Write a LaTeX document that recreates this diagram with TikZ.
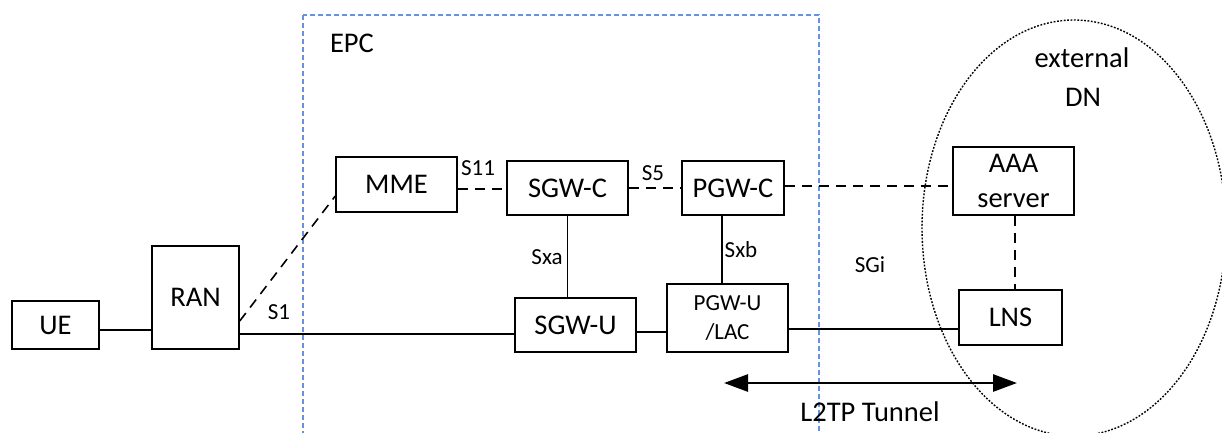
\documentclass[tikz,border=0pt]{standalone}
\usepackage{fontspec}
\setmainfont{Carlito}
\usetikzlibrary{arrows.meta}
\definecolor{epcblue}{RGB}{105,145,225}
\begin{document}
\begin{tikzpicture}[x=1pt,y=-1pt,
  box/.style={draw, line width=1.5pt, inner sep=0pt, align=center, font=\fontsize{28.5}{35}\selectfont},
  smallbox/.style={box, font=\fontsize{23}{29}\selectfont},
  lbl/.style={font=\fontsize{23}{26}\selectfont, inner sep=0pt},
  big/.style={font=\fontsize{28.5}{38}\selectfont, inner sep=0pt, align=center},
  link/.style={line width=1.6pt},
  dlink/.style={line width=1.6pt, dash pattern=on 10pt off 7pt}]
\useasboundingbox (0,0) rectangle (1222,432);
% EPC region
\draw[epcblue, line width=1.15pt, dash pattern=on 5pt off 3pt] (303,15) rectangle (819,445);
\node[big] (epc) at (352,43) {EPC};
% external DN
\draw[line width=1.4pt, dash pattern=on 1.8pt off 1.6pt] (1074,228) ellipse [x radius=152, y radius=208];
\node[big] (ext) at (1082,58) {external};
\node[big] (dn) at (1083,97) {DN};
% boxes
\node[box, minimum width=87pt, minimum height=48pt] (UE) at (55.5,325) {UE};
\node[box, minimum width=87pt, minimum height=103pt] (RAN) at (195.5,297.5) {RAN};
\node[box, minimum width=121pt, minimum height=55pt] (MME) at (396.5,184.5) {MME};
\node[box, minimum width=121pt, minimum height=54pt] (SGWC) at (567.5,188) {SGW-C};
\node[box, minimum width=102pt, minimum height=54pt] (PGWC) at (733,188) {PGW-C};
\node[box, minimum width=121pt, minimum height=68pt] (AAA) at (1013.5,181) {AAA\\server};
\node[box, minimum width=121pt, minimum height=54pt] (SGWU) at (575.5,325) {SGW-U};
\node[smallbox, minimum width=121pt, minimum height=68pt] (PGWU) at (727.5,318) {PGW-U\\/LAC};
\node[box, minimum width=103pt, minimum height=55pt] (LNS) at (1010.5,317.5) {LNS};
% user plane links
\draw[link] (UE.east |- 0,330) -- (RAN.west |- 0,330);
\draw[link] (RAN.east |- 0,334) -- (SGWU.west |- 0,334);
\draw[link] (SGWU.east |- 0,332) -- (PGWU.west |- 0,332);
\draw[link] (PGWU.east |- 0,329) -- (LNS.west |- 0,329);
% control plane links
\draw[dlink] ([yshift=-23.5pt]RAN.east) -- ([yshift=-11.5pt]MME.west);
\draw[dlink] (MME.east |- 0,189) -- (SGWC.west |- 0,189);
\draw[dlink] (SGWC.east |- 0,188) -- (PGWC.west |- 0,188);
\draw[dlink] (PGWC.east |- 0,186) -- (AAA.west |- 0,186);
\draw[dlink] (AAA.south -| 1015,0) -- (LNS.north -| 1015,0);
% Sx links
\draw[link] (SGWC.south) -- (SGWC.south |- SGWU.north);
\coordinate (sxbtop) at (722,215);
\draw[link] (sxbtop) -- (sxbtop |- PGWU.north);
% labels
\node[lbl] (s1) at (279,312) {S1};
\node[lbl] (s11) at (478,168) {S11};
\node[lbl] (s5) at (653,173) {S5};
\node[lbl] (sxa) at (547,257) {Sxa};
\node[lbl] (sxb) at (741,250) {Sxb};
\node[lbl] (sgi) at (870,265) {SGi};
% L2TP tunnel
\coordinate (tl) at (724,383);
\coordinate (tr) at (1017,383);
\draw[line width=2.7pt, {Triangle[length=24pt,width=17pt]}-{Triangle[length=24pt,width=17pt]}] (tl) -- (tr);
\node[big] (l2tp) at (870,412) {L2TP Tunnel};
\end{tikzpicture}
\end{document}
